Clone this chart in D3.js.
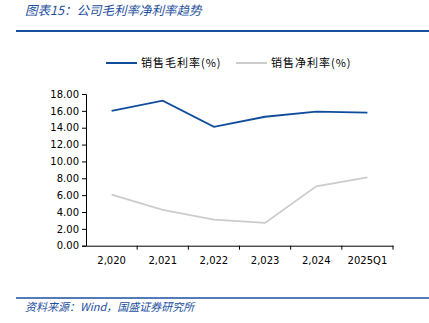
<!DOCTYPE html>
<html>
<head>
<meta charset="utf-8">
<script src="https://cdn.jsdelivr.net/npm/d3@7"></script>
<style>
  body { margin: 0; background: #fff; }
  svg { display: block; }
</style>
</head>
<body>
<script>
// chart data
var categories = ["2,020", "2,021", "2,022", "2,023", "2,024", "2025Q1"];
var grossMargin = [16.0, 17.2, 14.1, 15.3, 15.9, 15.8];
var netMargin = [6.05, 4.25, 3.1, 2.7, 7.05, 8.1];
var yTicks = [0, 2, 4, 6, 8, 10, 12, 14, 16, 18];
var seriesNames = ["销售毛利率(%)", "销售净利率(%)"];

var W = 429, H = 323;
var blue = "#0f4c9c", grey = "#cccccc", brand = "#1a4fa0";

var svg = d3.select("body").append("svg")
    .attr("width", W)
    .attr("height", H);

// title + rule
svg.append("text")
    .attr("x", 25).attr("y", 15)
    .attr("fill", "#1e4fa0")
    .style("font-family", "'Noto Sans CJK SC', sans-serif")
    .style("font-style", "italic")
    .style("font-size", "12.5px")
    .text("图表15：公司毛利率净利率趋势");

svg.append("line")
    .attr("x1", 16).attr("x2", W)
    .attr("y1", 31).attr("y2", 31)
    .attr("stroke", brand).attr("stroke-width", 2);

// footer
svg.append("line")
    .attr("x1", 16).attr("x2", W)
    .attr("y1", 298).attr("y2", 298)
    .attr("stroke", brand).attr("stroke-width", 1.5);

svg.append("text")
    .attr("x", 25).attr("y", 311)
    .attr("fill", "#1e4fa0")
    .style("font-family", "'Noto Sans CJK SC', sans-serif")
    .style("font-style", "italic")
    .style("font-size", "11px")
    .text("资料来源：Wind，国盛证券研究所");

// scales
var x = d3.scaleBand().domain(categories).range([86, 393]);
var y = d3.scaleLinear().domain([0, 18]).range([245.7, 94]);

// y axis
var yAxis = svg.append("g")
    .attr("transform", "translate(86,0)")
    .call(d3.axisLeft(y).tickValues(yTicks).tickSize(4).tickPadding(3)
      .tickFormat(d3.format(".2f")));

// x axis
var xAxis = svg.append("g")
    .attr("transform", "translate(0,245.7)")
    .call(d3.axisBottom(x).tickSize(0).tickPadding(11));

// ticks between categories
xAxis.selectAll(".sep")
    .data(categories)
    .enter().append("line")
    .attr("x1", function(d) { return x(d) + x.bandwidth(); })
    .attr("x2", function(d) { return x(d) + x.bandwidth(); })
    .attr("y1", 0).attr("y2", 4)
    .attr("stroke", "#000");

[yAxis, xAxis].forEach(function(g) {
  g.selectAll("text")
      .attr("fill", "#000")
      .style("font-family", "'DejaVu Sans', sans-serif")
      .style("font-size", "10px");
  g.select(".domain").attr("stroke", "#000");
  g.selectAll(".tick line").attr("stroke", "#000");
});

// lines
var line = d3.line()
    .x(function(d, i) { return x(categories[i]) + x.bandwidth() / 2; })
    .y(function(d) { return y(d); });

svg.append("path")
    .datum(netMargin)
    .attr("fill", "none")
    .attr("stroke", grey)
    .attr("stroke-width", 1.8)
    .attr("d", line);

svg.append("path")
    .datum(grossMargin)
    .attr("fill", "none")
    .attr("stroke", blue)
    .attr("stroke-width", 1.8)
    .attr("d", line);

// legend
var legend = svg.append("g");
var legX = [106, 236];
[blue, grey].forEach(function(c, i) {
  legend.append("line")
      .attr("x1", legX[i]).attr("x2", legX[i] + 31)
      .attr("y1", 63).attr("y2", 63)
      .attr("stroke", c).attr("stroke-width", 2);
  legend.append("text")
      .attr("x", legX[i] + 35).attr("y", 67)
      .attr("fill", "#000")
      .style("font-family", "'Noto Sans CJK SC', sans-serif")
      .style("font-size", "11px")
      .style("letter-spacing", "1px")
      .text(seriesNames[i]);
});
</script>
</body>
</html>
